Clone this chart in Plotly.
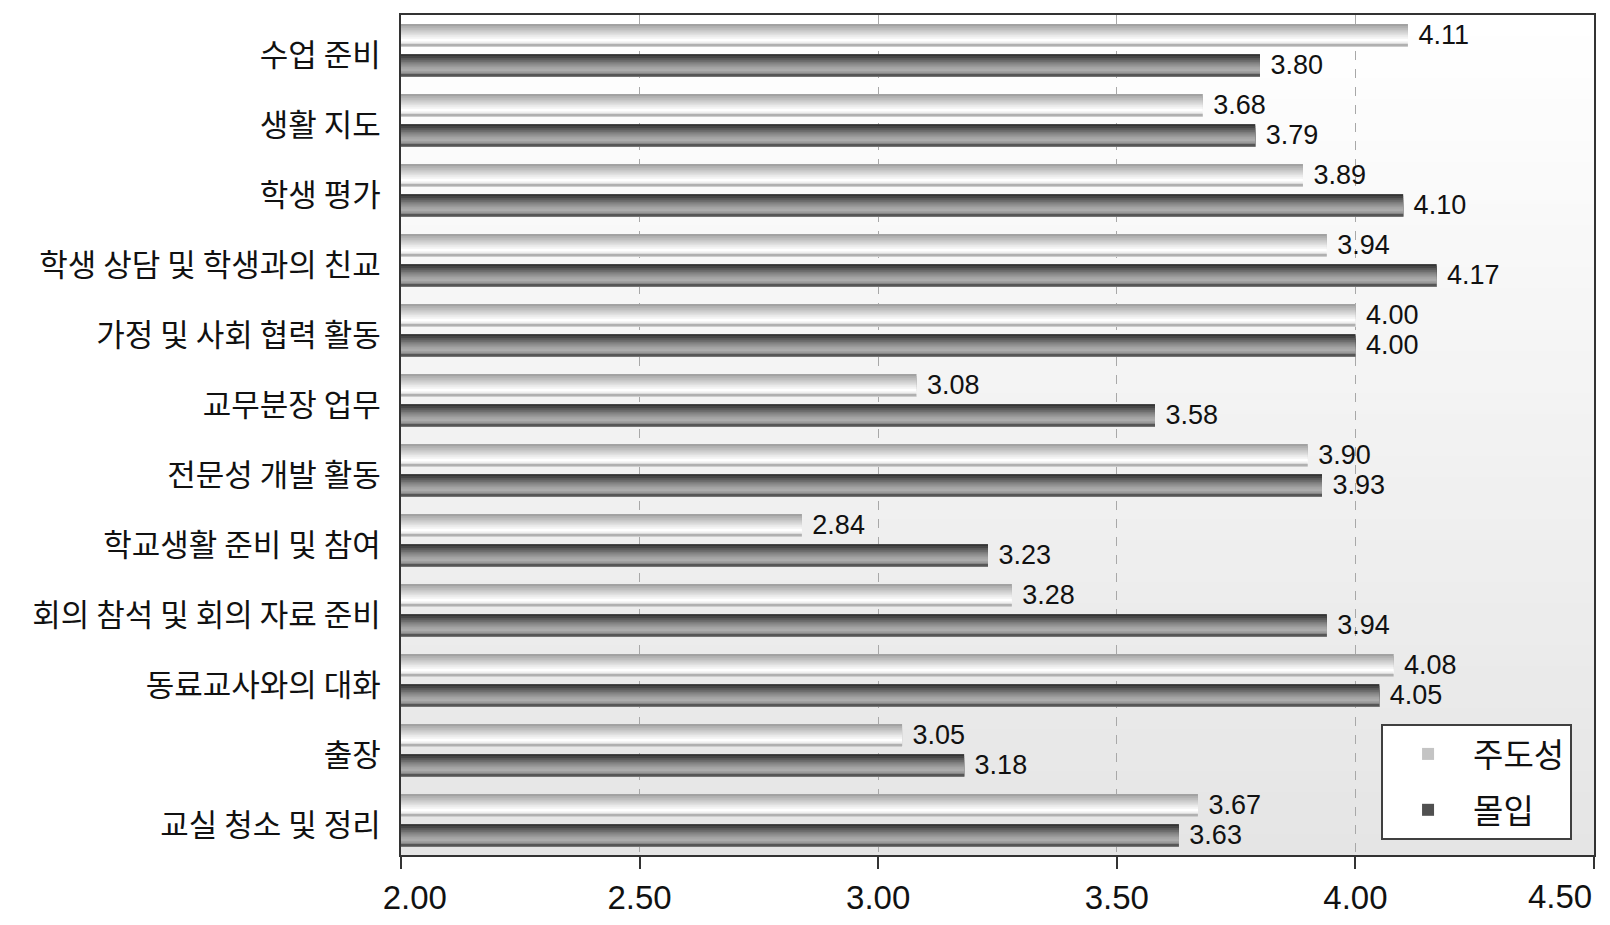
import plotly.graph_objects as go

# ---- data ----
categories = ["수업 준비", "생활 지도", "학생 평가", "학생 상담 및 학생과의 친교",
              "가정 및 사회 협력 활동", "교무분장 업무", "전문성 개발 활동",
              "학교생활 준비 및 참여", "회의 참석 및 회의 자료 준비",
              "동료교사와의 대화", "출장", "교실 청소 및 정리"]
initiative = [4.11, 3.68, 3.89, 3.94, 4.00, 3.08, 3.90, 2.84, 3.28, 4.08, 3.05, 3.67]   # 주도성
immersion = [3.80, 3.79, 4.10, 4.17, 4.00, 3.58, 3.93, 3.23, 3.94, 4.05, 3.18, 3.63]    # 몰입
series_names = ["주도성", "몰입"]
x_ticks = [2.0, 2.5, 3.0, 3.5, 4.0, 4.5]
x_tick_labels = ["2.00", "2.50", "3.00", "3.50", "4.00", "4.50"]

# ---- styles ----
KFONT = "Noto Sans CJK KR"
NFONT = "Liberation Sans Narrow, Arial Narrow, Liberation Sans, sans-serif"
NB = "\u00a0"
# first tick label pulled inward (as in the reference); last one drawn right-aligned
tick_text = list(x_tick_labels)
tick_text[0] = NB * 3 + tick_text[0]
tick_text[-1] = ""

light_profile = ["#a2a2a2", "#b0b0b0", "#bcbcbc", "#c8c8c8", "#d4d4d4", "#e0e0e0",
                 "#ececec", "#f6f6f6", "#ffffff", "#f6f6f6", "#dcdcdc", "#b0b0b0"]
dark_profile = ["#343434", "#464646", "#585858", "#6a6a6a", "#7c7c7c", "#8c8c8c",
                "#9a9a9a", "#a6a6a6", "#acacac", "#a0a0a0", "#868686", "#565656"]
legend_colors = ["#c4c4c4", "#505050"]
bar_offsets = [-0.37, 0.06]
bar_width = 0.32

fig = go.Figure()
for values, name, profile, off, lc in zip([initiative, immersion], series_names,
                                           [light_profile, dark_profile], bar_offsets, legend_colors):
    # base bar (carries legend + hover)
    fig.add_trace(go.Bar(
        x=values, y=categories, orientation="h", name=name,
        offset=off, width=bar_width, marker=dict(color=lc, line=dict(width=0)),
        legendgroup=name, showlegend=True,
        hovertemplate="%{y}<br>" + name + ": %{x:.2f}<extra></extra>",
    ))
    # gradient strips (vertical shading of each bar)
    n = len(profile)
    step = bar_width / n
    for k, col in enumerate(profile):
        fig.add_trace(go.Bar(
            x=values, y=categories, orientation="h",
            offset=off + k * step, width=bar_width - k * step,
            marker=dict(color=col, line=dict(width=0)),
            legendgroup=name, showlegend=False, hoverinfo="skip",
        ))
    # value labels
    fig.add_trace(go.Bar(
        x=values, y=categories, orientation="h",
        offset=off, width=bar_width,
        marker=dict(color="rgba(0,0,0,0)", line=dict(width=0)),
        text=[f" {v:.2f}" for v in values], textposition="outside",
        constraintext="none", cliponaxis=False,
        textfont=dict(family=NFONT, size=27, color="#111111"),
        legendgroup=name, showlegend=False, hoverinfo="skip",
    ))

# background vertical gradient of plot area
nb = 40
shapes = []
for i in range(nb):
    t = i / (nb - 1)
    g = int(round(255 - (255 - 229) * (1 - t)))
    shapes.append(dict(type="rect", xref="paper", yref="paper",
                       x0=0, x1=1, y0=i / nb, y1=(i + 1) / nb,
                       fillcolor=f"rgb({g},{g},{g})", line=dict(width=0), layer="below"))

# last x tick label, right-aligned to the axis end so it stays inside the page
annotations = [dict(x=x_ticks[-1], xref="x", y=0, yref="paper", text=x_tick_labels[-1],
                    xanchor="right", yanchor="middle", yshift=-41, showarrow=False,
                    font=dict(family=NFONT, size=33, color="#111111"))]

fig.update_layout(
    width=1610, height=925,
    margin=dict(l=401, r=16, t=15, b=70, autoexpand=False),
    barmode="overlay",
    paper_bgcolor="white", plot_bgcolor="white",
    shapes=shapes, annotations=annotations,
    showlegend=True,
    legend=dict(x=0.8215, y=0.156, xanchor="left", yanchor="top",
                bgcolor="white", bordercolor="#404040", borderwidth=2,
                font=dict(family=KFONT, size=33, color="#111111"),
                itemsizing="constant", itemwidth=80, tracegroupgap=10),
    xaxis=dict(range=[2.0, 4.5], tickvals=x_ticks, ticktext=tick_text,
               showgrid=True, gridcolor="#a8a8a8", griddash="dash", gridwidth=1,
               zeroline=False, showline=True, mirror=True, linecolor="#333333", linewidth=2,
               ticks="outside", ticklen=12, tickcolor="#333333", tickwidth=1.5,
               ticklabelstandoff=0, automargin=False,
               tickfont=dict(family=NFONT, size=33, color="#111111")),
    yaxis=dict(categoryorder="array", categoryarray=categories,
               range=[11.5, -0.5], showgrid=False, zeroline=False,
               showline=True, mirror=True, linecolor="#333333", linewidth=2,
               ticks="", ticklabelstandoff=12, ticklabelshift=-5, automargin=False,
               tickfont=dict(family=KFONT, size=31, color="#111111")),
)

fig.write_html("out.html")
